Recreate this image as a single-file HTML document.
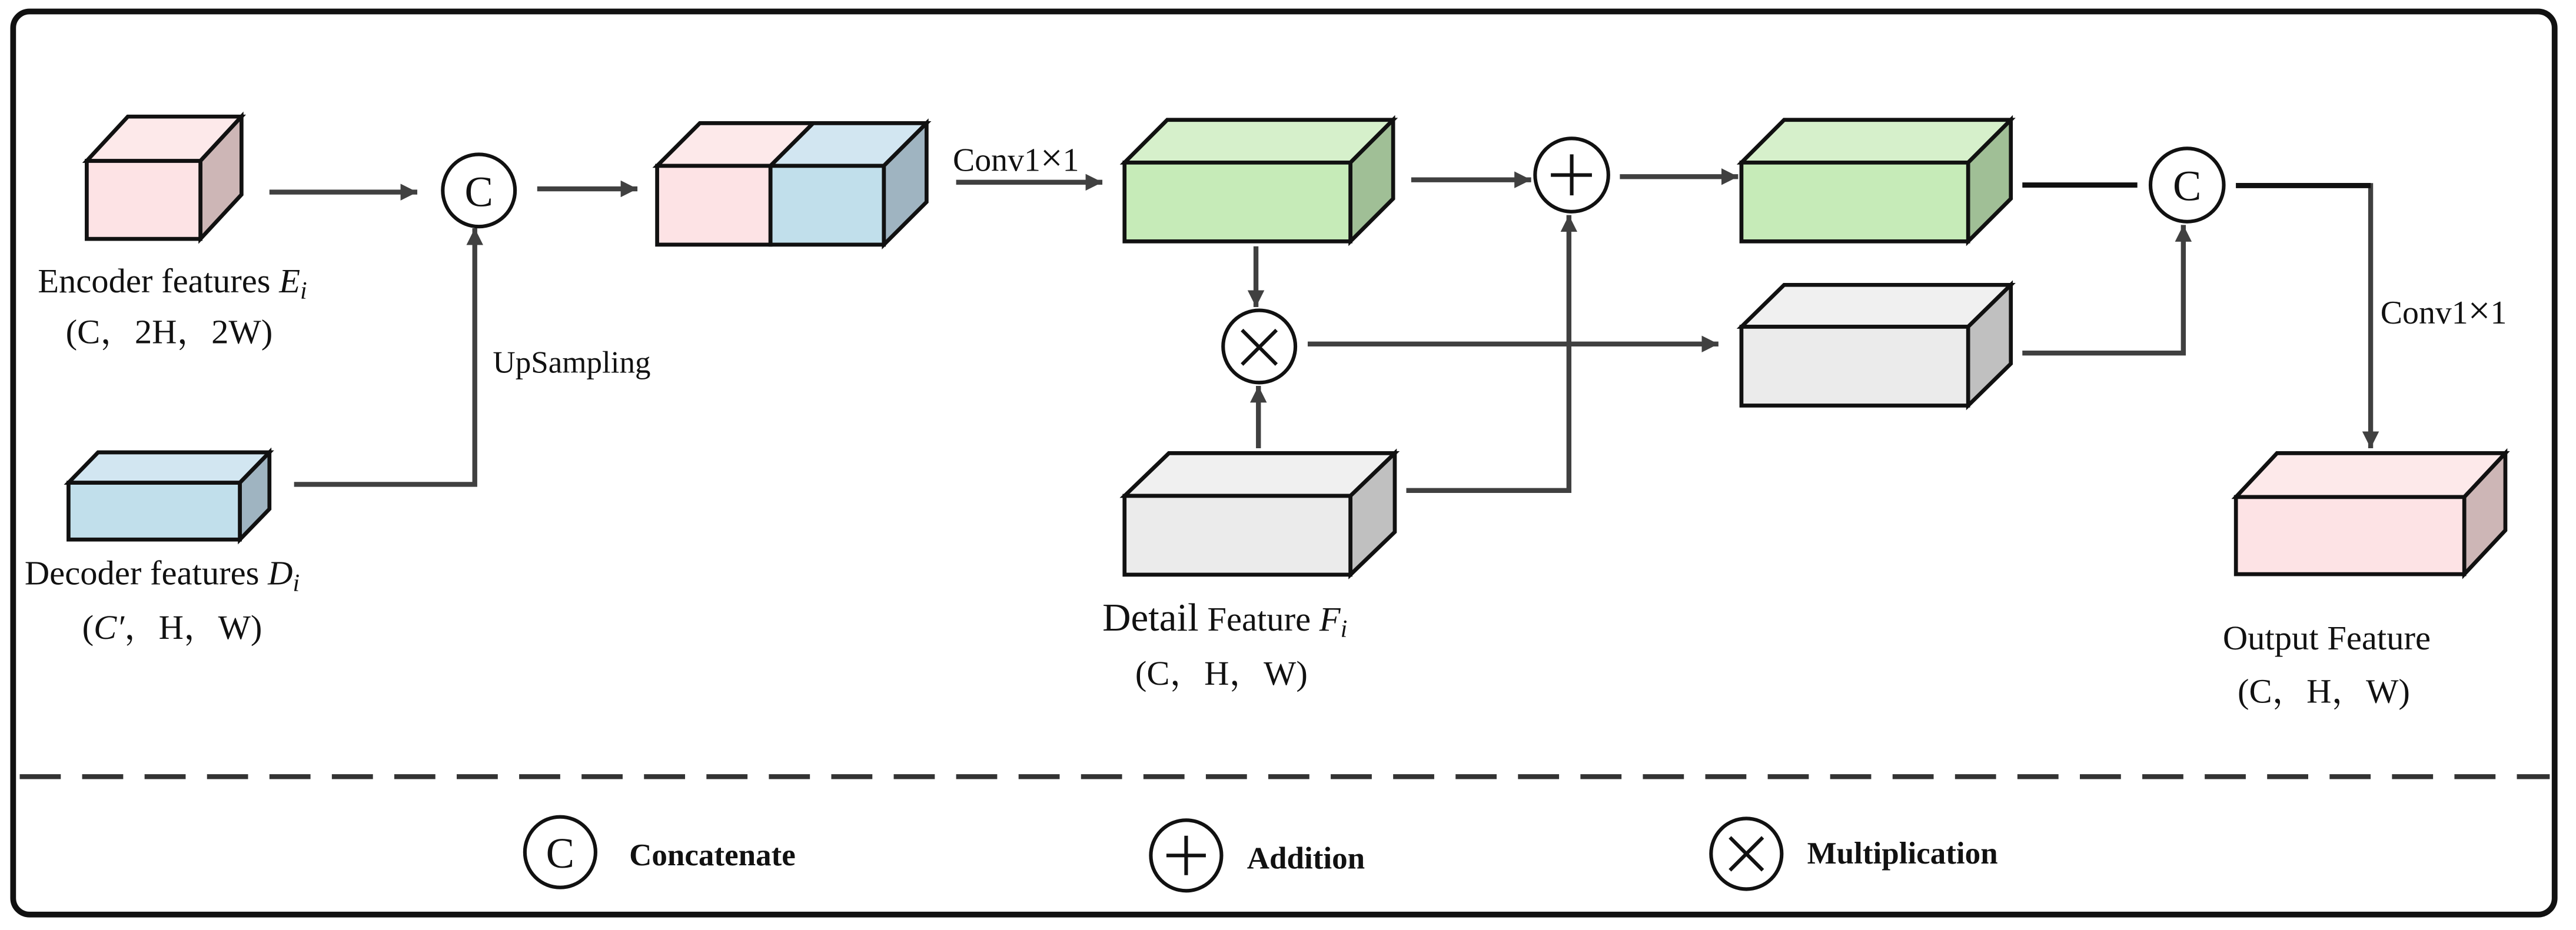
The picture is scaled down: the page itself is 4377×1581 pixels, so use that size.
<!DOCTYPE html>
<html><head><meta charset="utf-8"><style>
html,body{margin:0;padding:0;background:#fff}
svg{display:block}
text{font-family:"Liberation Serif","Noto Serif CJK SC",serif;fill:#111}
</style></head><body>
<svg width="4377" height="1581" viewBox="0 0 1568 566.4" preserveAspectRatio="none" xmlns="http://www.w3.org/2000/svg">
<defs>
<marker id="ah" viewBox="0 0 10 10" refX="10" refY="5" markerWidth="3.4" markerHeight="3.4" markerUnits="strokeWidth" orient="auto">
<path d="M0,0 L10,5 L0,10 z" fill="#404040"/></marker>
</defs>
<rect x="8" y="7" width="1547" height="550" rx="10" fill="#fff" stroke="#111" stroke-width="3.5"/>
<g stroke="#111" stroke-width="2.4" stroke-linejoin="miter">
<polygon points="52.8,98 77.8,71 147,71 122,98" fill="#fde9ea"/>
<polygon points="122,98 147,71 147,118.5 122,145.5" fill="#cdb6b6"/>
<rect x="52.8" y="98" width="69.2" height="47.5" fill="#fde3e5"/>
<polygon points="41.7,294 59.7,275.5 164,275.5 146,294" fill="#d2e6f1"/>
<polygon points="146,294 164,275.5 164,310 146,328.6" fill="#9fb4c1"/>
<rect x="41.7" y="294" width="104.3" height="34.6" fill="#c1dfeb"/>
<polygon points="400,101 426,75 495,75 469,101" fill="#fde9ea"/>
<polygon points="469,101 495,75 564,75 538,101" fill="#d2e6f1"/>
<polygon points="538,101 564,75 564,123 538,149" fill="#9fb4c1"/>
<rect x="400" y="101" width="69" height="48" fill="#fde3e5"/>
<rect x="469" y="101" width="69" height="48" fill="#c1dfeb"/>
<polygon points="684.5,99 710.5,73 848,73 822,99" fill="#d6f0cb"/>
<polygon points="822,99 848,73 848,121 822,147" fill="#a0bf96"/>
<rect x="684.5" y="99" width="137.5" height="48" fill="#c6ebb8"/>
<polygon points="684.5,302 711.5,276 849,276 822,302" fill="#f0f0f0"/>
<polygon points="822,302 849,276 849,324 822,350" fill="#c0c0c0"/>
<rect x="684.5" y="302" width="137.5" height="48" fill="#ebebeb"/>
<polygon points="1060,99 1086,73 1224,73 1198,99" fill="#d6f0cb"/>
<polygon points="1198,99 1224,73 1224,121 1198,147" fill="#a0bf96"/>
<rect x="1060" y="99" width="138" height="48" fill="#c6ebb8"/>
<polygon points="1060,199 1086,173.5 1224,173.5 1198,199" fill="#f0f0f0"/>
<polygon points="1198,199 1224,173.5 1224,221.5 1198,247" fill="#c0c0c0"/>
<rect x="1060" y="199" width="138" height="48" fill="#ebebeb"/>
<polygon points="1361,302.7 1386,276 1525,276 1500,302.7" fill="#fde9ea"/>
<polygon points="1500,302.7 1525,276 1525,323 1500,349.7" fill="#cdb6b6"/>
<rect x="1361" y="302.7" width="139" height="47" fill="#fde3e5"/>
</g>
<g stroke="#404040" stroke-width="3" fill="none">
<line x1="164" y1="117" x2="254" y2="117" marker-end="url(#ah)"/>
<line x1="327" y1="115" x2="388" y2="115" marker-end="url(#ah)"/>
<polyline points="179,295 289,295 289,139" marker-end="url(#ah)"/>
<line x1="582" y1="111" x2="671" y2="111" marker-end="url(#ah)"/>
<line x1="764.5" y1="150" x2="764.5" y2="187" marker-end="url(#ah)"/>
<line x1="766" y1="273" x2="766" y2="235" marker-end="url(#ah)"/>
<line x1="859" y1="109.5" x2="932" y2="109.5" marker-end="url(#ah)"/>
<line x1="986" y1="107.6" x2="1058" y2="107.6" marker-end="url(#ah)"/>
<line x1="796" y1="209.5" x2="1046" y2="209.5" marker-end="url(#ah)"/>
<polyline points="856,298.7 955,298.7 955,131" marker-end="url(#ah)"/>
<polyline points="1231,215 1329,215 1329,137" marker-end="url(#ah)"/>
<line x1="1231" y1="112.7" x2="1301" y2="112.7" stroke="#111" stroke-width="3.2"/>
<polyline points="1361,113 1443,113 1443,273" marker-end="url(#ah)"/>
<line x1="1361" y1="113" x2="1443" y2="113" stroke="#111" stroke-width="3.2"/>
<line x1="12" y1="473" x2="1552" y2="473" stroke="#333" stroke-width="3" stroke-dasharray="25,13"/>
</g>
<g stroke="#111" stroke-width="2.2" fill="#fff">
<circle cx="291.5" cy="116" r="22"/>
<circle cx="766.5" cy="211" r="22"/>
<circle cx="956.7" cy="106.6" r="22.3"/>
<circle cx="1331.3" cy="112.7" r="22.3"/>
<circle cx="341" cy="519" r="21.5"/>
<circle cx="722" cy="521" r="21.5"/>
<circle cx="1063" cy="520" r="21.5"/>
</g>
<g stroke="#111" stroke-width="2.2">
<line x1="756" y1="201" x2="777" y2="222"/><line x1="777" y1="201" x2="756" y2="222"/>
<line x1="944" y1="106.6" x2="969" y2="106.6"/><line x1="956.7" y1="94" x2="956.7" y2="119"/>
<line x1="710" y1="521" x2="734" y2="521"/><line x1="722" y1="509" x2="722" y2="533"/>
<line x1="1053" y1="510" x2="1073" y2="530"/><line x1="1073" y1="510" x2="1053" y2="530"/>
</g>
<g font-size="26" text-anchor="middle">
<text x="291.5" y="125.5">C</text>
<text x="1331.3" y="122">C</text>
<text x="341" y="528.5">C</text>
</g>
<g font-size="21">
<text x="23" y="178">Encoder features <tspan font-style="italic">E</tspan><tspan font-style="italic" font-size="15" dy="4">i</tspan></text>
<text x="40" y="209">(C，2H，2W)</text>
<text x="15" y="356">Decoder features <tspan font-style="italic">D</tspan><tspan font-style="italic" font-size="15" dy="4">i</tspan></text>
<text x="50" y="389">(<tspan font-style="italic">C′</tspan>，H，W)</text>
<text x="300" y="227" font-size="19">UpSampling</text>
<text x="580" y="104" font-size="20">Conv1<tspan font-size="24">×</tspan>1</text>
<text x="1449" y="197" font-size="20">Conv1<tspan font-size="24">×</tspan>1</text>
<text x="671" y="384"><tspan font-size="24">Detail</tspan> Feature <tspan font-style="italic">F</tspan><tspan font-style="italic" font-size="15" dy="4">i</tspan></text>
<text x="691" y="417">(C，H，W)</text>
<text x="1353" y="395.5">Output Feature</text>
<text x="1362" y="428">(C，H，W)</text>
</g>
<g font-size="19" font-weight="bold">
<text x="383" y="527">Concatenate</text>
<text x="759" y="529">Addition</text>
<text x="1100" y="526" fill="#555">Multiplication</text>
</g>
</svg>
</body></html>
